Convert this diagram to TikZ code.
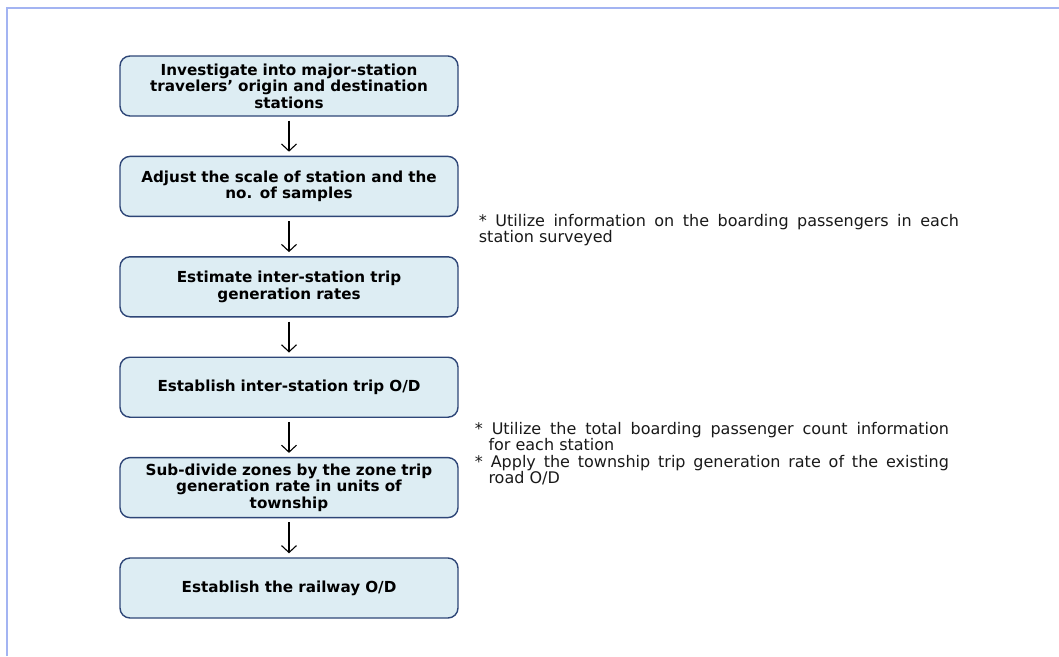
\documentclass[tikz,border=0pt]{standalone}
\usepackage{fontspec}
\setmainfont{DejaVu Sans}
\usepackage{xcolor}
\usepackage{tikz}
\usetikzlibrary{arrows.meta, positioning}

\definecolor{boxfill}{HTML}{DDEDF3}
\definecolor{boxline}{HTML}{2E4677}
\definecolor{frameline}{HTML}{A3B4F2}

\newcommand{\fullline}[1]{\makebox[474pt][s]{#1}}

\begin{document}
\begin{tikzpicture}[
  x=1pt, y=1pt,
  proc/.style={draw=boxline, fill=boxfill, line width=1.4pt, rounded corners=10pt,
               minimum width=338pt, minimum height=60pt, text width=330pt,
               align=center, inner sep=2pt,
               font=\fontsize{15.2}{16.5}\selectfont\bfseries},
  note/.style={inner sep=0pt, align=left, text=black!90,
               font=\fontsize{16}{16.5}\selectfont},
  arr/.style={-{Straight Barb[length=7pt, width=15pt]}, line width=1.1pt,
              shorten <=4pt, shorten >=4pt},
  node distance=39pt
]
  \useasboundingbox (0,0) rectangle (1059,-656);
  \draw[frameline, line width=2pt] (7,-656) -- (7,-8) -- (1059,-8);

  % main chain of steps
  \node[proc] (b1) at (289,-86)
    {Investigate into major-station\\travelers’ origin and destination\\stations};
  \node[proc, below=of b1] (b2) {Adjust the scale of station and the\\no. of samples};
  \node[proc, below=of b2] (b3) {Estimate inter-station trip\\generation rates};
  \node[proc, below=of b3] (b4) {Establish inter-station trip O/D};
  \node[proc, below=of b4] (b5)
    {Sub-divide zones by the zone trip\\generation rate in units of\\township};
  \node[proc, below=of b5] (b6) {Establish the railway O/D};

  \draw[arr] (b1) -- (b2);
  \draw[arr] (b2) -- (b3);
  \draw[arr] (b3) -- (b4);
  \draw[arr] (b4) -- (b5);
  \draw[arr] (b5) -- (b6);

  % side remarks
  \node[note, below right=-3pt and 20pt of b2.south east] (n1)
    {\makebox[480pt][s]{* Utilize information on the boarding passengers in each}\\
     station surveyed};
  \node[note, below right=4pt and 16pt of b4.south east] (n2)
    {\fullline{* Utilize the total boarding passenger count information}\\
     \hspace*{0.85em}for each station\\
     \fullline{{*} Apply the township trip generation rate of the existing}\\
     \hspace*{0.85em}road O/D};
\end{tikzpicture}
\end{document}
